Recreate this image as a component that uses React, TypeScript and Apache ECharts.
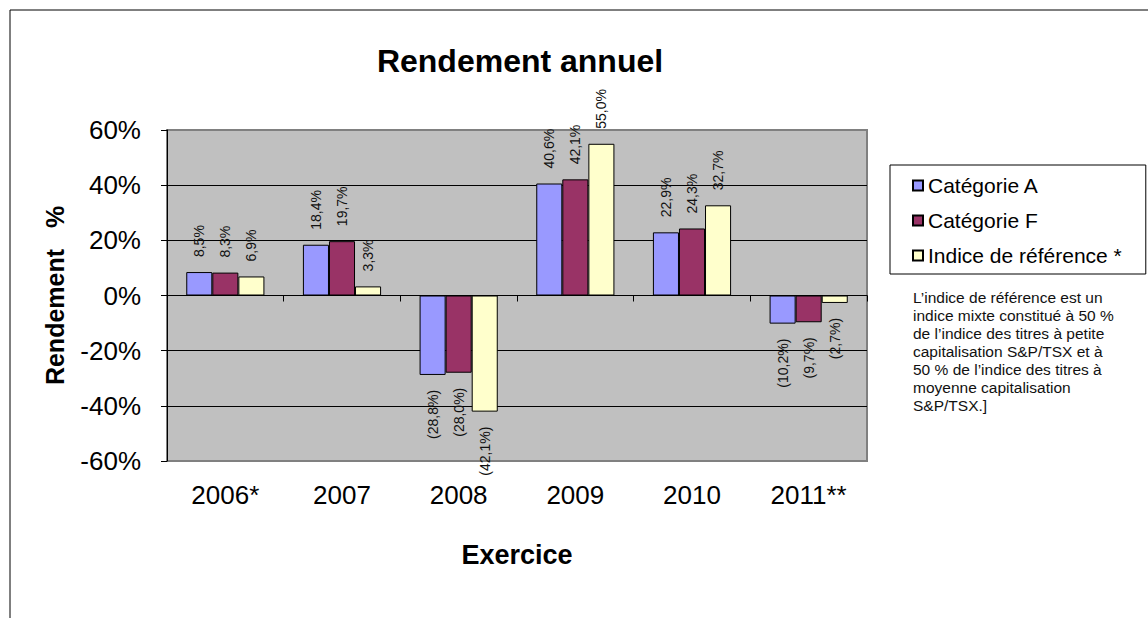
import React, { useEffect, useRef } from 'react';
import * as echarts from 'echarts';

const categories = ['2006*', '2007', '2008', '2009', '2010', '2011**'];
const categorieA = [8.5, 18.4, -28.8, 40.6, 22.9, -10.2];
const categorieF = [8.3, 19.7, -28.0, 42.1, 24.3, -9.7];
const indiceReference = [6.9, 3.3, -42.1, 55.0, 32.7, -2.7];
const seriesNames = ['Catégorie A', 'Catégorie F', 'Indice de référence *'];
const seriesColors = ['#9999FF', '#993366', '#FFFFCC'];
const yMin = -60;
const yMax = 60;
const yInterval = 20;
const noteLines = [
  'L’indice de référence est un',
  'indice mixte constitué à 50 %',
  'de l’indice des titres à petite',
  'capitalisation S&P/TSX et à',
  '50 % de l’indice des titres à',
  'moyenne capitalisation',
  'S&P/TSX.]',
];

const FONT = 'Arial, "Liberation Sans", Helvetica, sans-serif';

function fmtLabel(v: number): string {
  const s = Math.abs(v).toFixed(1).replace('.', ',') + '%';
  return v < 0 ? '(' + s + ')' : s;
}

function toItems(values: number[]) {
  return values.map((v) =>
    v < 0
      ? { value: v, label: { position: 'bottom', align: 'right' } }
      : { value: v }
  );
}

export default function App() {
  const ref = useRef<HTMLDivElement>(null);

  useEffect(() => {
    if (!ref.current) return;
    const chart = echarts.init(ref.current, undefined, { renderer: 'svg' });
    const allSeries = [categorieA, categorieF, indiceReference].map((vals, i) => ({
      name: seriesNames[i],
      type: 'bar',
      xAxisIndex: 0,
      yAxisIndex: 0,
      data: toItems(vals),
      barGap: '0%',
      barCategoryGap: '33%',
      itemStyle: { color: seriesColors[i], borderColor: '#000', borderWidth: 1 },
      label: {
        show: true,
        position: 'top',
        rotate: 90,
        align: 'left',
        verticalAlign: 'middle',
        distance: 15,
        fontSize: 14,
        fontFamily: FONT,
        color: '#111',
        formatter: (p: any) => fmtLabel(p.value),
      },
    }));

    chart.setOption({
      animation: false,
      backgroundColor: '#fff',
      textStyle: { fontFamily: FONT },
      title: {
        text: 'Rendement annuel',
        left: 520,
        top: 45,
        padding: 0,
        textAlign: 'center',
        textStyle: { fontSize: 32, fontWeight: 'bold', color: '#000', fontFamily: FONT },
      },
      legend: {
        orient: 'vertical',
        left: 890,
        top: 165,
        itemWidth: 10,
        itemHeight: 10,
        itemGap: 14,
        padding: [10, 24, 8, 22],
        borderColor: '#000',
        borderWidth: 1,
        backgroundColor: '#fff',
        icon: 'rect',
        data: seriesNames,
        textStyle: { fontSize: 21, color: '#000', fontFamily: FONT },
      },
      grid: {
        left: 167,
        right: 281,
        top: 130,
        bottom: 157,
        show: true,
        backgroundColor: '#C0C0C0',
        borderColor: '#808080',
        borderWidth: 2,
        containLabel: false,
      },
      xAxis: [
        {
          type: 'category',
          data: categories,
          position: 'bottom',
          axisLine: { show: false, onZero: false },
          axisTick: { show: false },
          splitLine: { show: false },
          axisLabel: { fontSize: 26, color: '#000', margin: 21, fontFamily: FONT },
          name: 'Exercice',
          nameLocation: 'middle',
          nameGap: 80,
          nameTextStyle: { fontSize: 27, fontWeight: 'bold', color: '#000', fontFamily: FONT },
        },
        {
          type: 'category',
          data: categories,
          position: 'top',
          axisLine: { show: true, onZero: true, lineStyle: { color: '#000', width: 1 } },
          axisTick: { show: true, inside: true, length: 6, lineStyle: { color: '#000' } },
          axisLabel: { show: false },
          splitLine: { show: false },
        },
      ],
      yAxis: {
        type: 'value',
        min: yMin,
        max: yMax,
        interval: yInterval,
        axisLine: { show: true, lineStyle: { color: '#000', width: 1 } },
        axisTick: { show: true, length: 6, lineStyle: { color: '#000' } },
        axisLabel: { formatter: '{value}%', fontSize: 26, color: '#000', margin: 26, fontFamily: FONT },
        splitLine: {
          show: true,
          lineStyle: {
            color: ['#808080', '#000', '#000', '#000', '#000', '#000', '#808080'],
            width: 1,
          },
        },
        name: 'Rendement   %',
        nameLocation: 'middle',
        nameGap: 100,
        nameTextStyle: { fontSize: 25, fontWeight: 'bold', color: '#000', fontFamily: FONT },
      },
      graphic: [
        {
          type: 'rect',
          silent: true,
          z: -10,
          shape: { x: 10, y: 10, width: 1300, height: 800 },
          style: { fill: 'none', stroke: '#000', lineWidth: 1 },
        },
        {
          type: 'text',
          left: 913,
          top: 288,
          style: {
            text: noteLines.join('\n'),
            font: '15.5px ' + FONT,
            lineHeight: 18,
            fill: '#111',
          },
        },
      ],
      series: allSeries,
    });

    return () => {
      chart.dispose();
    };
  }, []);

  return (
    <div
      ref={ref}
      style={{ position: 'fixed', left: 0, top: 0, width: 1148, height: 618 }}
    />
  );
}
